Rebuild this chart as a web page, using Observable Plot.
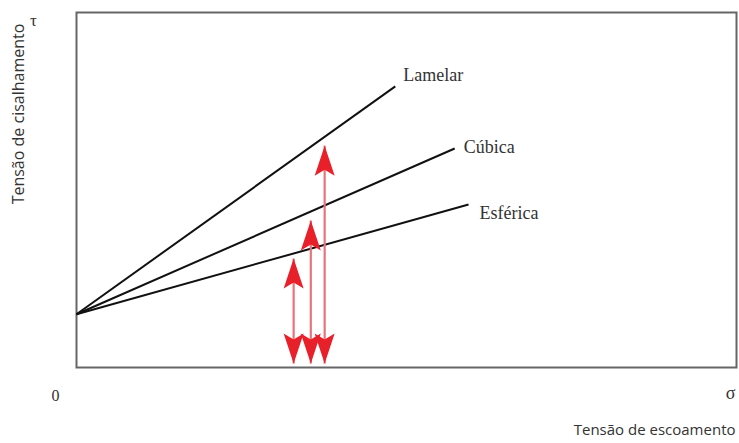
<!DOCTYPE html>
<html>
<head>
<meta charset="utf-8">
<script src="https://cdn.jsdelivr.net/npm/d3@7"></script>
<script src="https://cdn.jsdelivr.net/npm/@observablehq/plot@0.6"></script>
<style>
  html, body { margin: 0; padding: 0; background: #fff; }
  #chart svg { display: block; }
</style>
</head>
<body>
<div id="chart"></div>
<script>
// Series (schematic lines from common origin)
const series = ["Lamelar", "Cúbica", "Esférica"];
const originX = 0;
const originY = 15;
const endX = [48.3, 57.3, 59.4];
const endY = [79.2, 61.7, 45.9];

// Red arrows
const arrowX = [32.9, 35.5, 37.6];
const arrowTop = [30.7, 41.4, 62.5];
const arrowBottom = 1.1;

// Axis texts
const yTitle = "Tensão de cisalhamento";
const xTitle = "Tensão de escoamento";
const originLabel = "0";
const xEndLabel = "σ";
const yEndLabel = "τ";

const lines = series.map((s, i) => ({name: s, x1: originX, y1: originY, x2: endX[i], y2: endY[i]}));
const arrows = arrowX.map((x, i) => ({x, top: arrowTop[i], bottom: arrowBottom}));

const arrowHead = {
  draw(ctx) {
    ctx.moveTo(0, 0);
    ctx.lineTo(10, 30);
    ctx.lineTo(0, 24);
    ctx.lineTo(-10, 30);
    ctx.closePath();
  }
};

const serif = "'Liberation Serif', 'DejaVu Serif', serif";
const sans = "'Open Sans', 'Noto Sans', sans-serif";

const labelOffsets = {Lamelar: [8, -11], "Cúbica": [9, -1], "Esférica": [11, 9]};

const centered = {textAnchor: "middle", lineAnchor: "middle"};

const chart = Plot.plot({
  width: 739,
  height: 443,
  marginLeft: 76,
  marginRight: 3,
  marginTop: 12,
  marginBottom: 76,
  x: {domain: [0, 100], axis: null},
  y: {domain: [0, 100], axis: null},
  style: {background: "#fff"},
  marks: [
    Plot.frame({stroke: "#666", strokeWidth: 2}),
    Plot.link(lines, {x1: "x1", y1: "y1", x2: "x2", y2: "y2", stroke: "#111", strokeWidth: 2}),
    ...series.map(s => Plot.text(lines.filter(d => d.name === s), {
      x: "x2", y: "y2", text: "name", textAnchor: "start", lineAnchor: "middle",
      dx: labelOffsets[s][0], dy: labelOffsets[s][1],
      fontFamily: serif, fontSize: 18, fill: "#333"
    })),
    Plot.link(arrows, {x1: "x", x2: "x", y1: "bottom", y2: "top", stroke: "#e8737a", strokeWidth: 2.2}),
    Plot.dot(arrows, {x: "x", y: "top", symbol: arrowHead, fill: "#e8202a", stroke: "none", r: 10}),
    Plot.dot(arrows, {x: "x", y: "bottom", symbol: arrowHead, rotate: 180, fill: "#e8202a", stroke: "none", r: 10}),
    Plot.text([yEndLabel], {text: d => d, frameAnchor: "top-left", dx: -43, dy: 8, ...centered, fontFamily: serif, fontSize: 17, fill: "#333"}),
    Plot.text([originLabel], {text: d => d, frameAnchor: "bottom-left", dx: -21, dy: 28, ...centered, fontFamily: serif, fontSize: 16, fill: "#333"}),
    Plot.text([xEndLabel], {text: d => d, frameAnchor: "bottom-right", dx: -6, dy: 26, ...centered, fontFamily: serif, fontSize: 18, fill: "#333"}),
    Plot.text([yTitle], {text: d => d, frameAnchor: "left", dx: -58, dy: -76, rotate: -90, ...centered, fontFamily: sans, fontSize: 16, fill: "#333"}),
    Plot.text([xTitle], {text: d => d, frameAnchor: "bottom-right", textAnchor: "end", lineAnchor: "middle", dx: -1, dy: 63, fontFamily: sans, fontSize: 15, fill: "#333"})
  ]
});
document.getElementById("chart").appendChild(chart);
</script>
</body>
</html>
